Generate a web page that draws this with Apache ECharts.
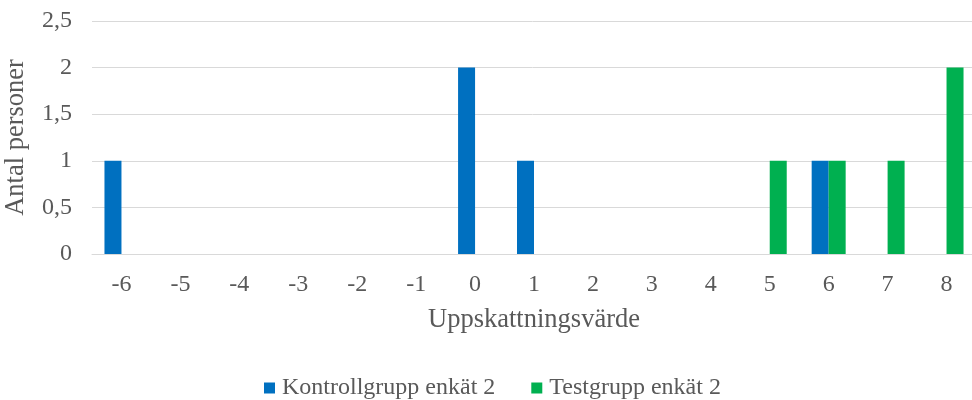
<!DOCTYPE html>
<html><head><meta charset="utf-8">
<script src="https://cdn.jsdelivr.net/npm/echarts@6/dist/echarts.min.js"></script>
<style>html,body{margin:0;padding:0;background:#fff}#c{width:972px;height:400px}</style>
</head><body><div id="c"></div>
<script>
const categories = ['-6','-5','-4','-3','-2','-1','0','1','2','3','4','5','6','7','8'];
const kontroll = [1,0,0,0,0,0,2,1,0,0,0,0,1,0,0];
const testgrupp = [0,0,0,0,0,0,0,0,0,0,0,1,1,1,2];
const yTicks = [0,0.5,1,1.5,2,2.5];
const seriesNames = ['Kontrollgrupp enkät 2','Testgrupp enkät 2'];
const xName = 'Uppskattningsvärde';
const yName = 'Antal personer';

const font = '"Liberation Serif","Times New Roman",serif';
const txt = '#595959';
const chart = echarts.init(document.getElementById('c'));
chart.setOption({
  animation:false,
  textStyle:{fontFamily:font},
  grid:{left:92,width:884,top:21,bottom:146,containLabel:false,outerBoundsMode:'none'},
  legend:{top:376,left:264,itemWidth:11,itemHeight:11,itemGap:36,icon:'rect',padding:0,
    textStyle:{fontFamily:font,fontSize:24,color:txt,padding:[0,0,0,2]},data:seriesNames},
  xAxis:{type:'category',data:categories,
    axisLine:{lineStyle:{color:'#D9D9D9',width:1}},axisTick:{show:false},
    axisLabel:{fontFamily:font,fontSize:24,color:txt,margin:19},
    name:xName,nameLocation:'middle',nameGap:53,
    nameTextStyle:{fontFamily:font,fontSize:26.5,color:txt}},
  yAxis:{type:'value',min:yTicks[0],max:yTicks[yTicks.length-1],interval:yTicks[1]-yTicks[0],
    axisLine:{show:false},axisTick:{show:false},
    splitLine:{lineStyle:{color:'#D9D9D9',width:1}},
    axisLabel:{fontFamily:font,fontSize:24,color:txt,margin:20,
      formatter:v=>String(v).replace('.',',')},
    name:yName,nameLocation:'middle',nameGap:62,
    nameTextStyle:{fontFamily:font,fontSize:26.5,color:txt}},
  series:[
    {name:seriesNames[0],type:'bar',data:kontroll,barWidth:17,barGap:'0%',itemStyle:{color:'#0070C0'}},
    {name:seriesNames[1],type:'bar',data:testgrupp,barWidth:17,barGap:'0%',itemStyle:{color:'#00B050'}}
  ]
});
</script></body></html>
